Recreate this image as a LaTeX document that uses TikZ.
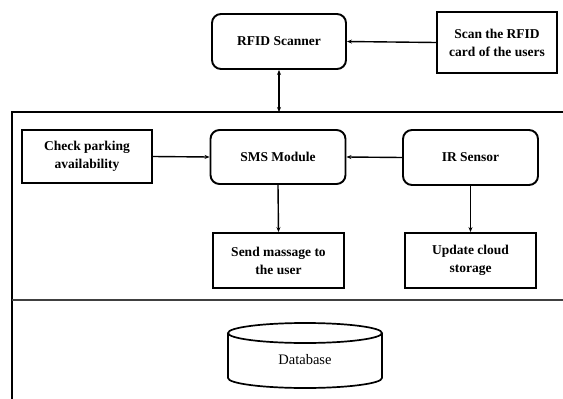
\documentclass[tikz,border=0pt]{standalone}
\usepackage{fontspec}
\setmainfont{Liberation Serif}
\usetikzlibrary{arrows.meta}
\begin{document}
\begin{tikzpicture}[x=1pt,y=-1pt,
  box/.style={draw, line width=1.9pt, align=center, inner sep=0pt,
    font=\fontsize{13.5}{18}\selectfont\bfseries},
  roundbox/.style={box, rounded corners=9pt},
  tip/.style={Stealth[length=5pt,width=4pt]},
  flow/.style={line width=1.4pt, -{Stealth[length=5pt,width=4pt]}},
  frame/.style={line width=1.9pt}]
\useasboundingbox (0,0) rectangle (563,399);

% upper row
\node[roundbox, minimum width=134pt, minimum height=55pt] (rfid) at (279,41.5) {RFID Scanner};
\node[box, minimum width=120pt, minimum height=61pt] (scan) at (497,42.5) {Scan the RFID\\card of the users};

% enclosing frame and the line that splits it
\coordinate (ftl) at (12,112);
\coordinate (ftr) at (563,112);
\coordinate (fbl) at (12,399);
\coordinate (sepl) at (12,300);
\coordinate (sepr) at (563,300);
\coordinate (ftop) at (279,112);
\draw[frame] (fbl) -- (ftl) -- (ftr);
\draw[line width=2.4pt, black!75] (sepl) -- (sepr);

% middle row
\node[box, minimum width=130pt, minimum height=53pt] (check) at (87,156.5) {Check parking\\availability};
\node[roundbox, minimum width=135pt, minimum height=54pt] (sms) at (278,157) {SMS Module};
\node[roundbox, minimum width=135pt, minimum height=55pt] (ir) at (470.5,157.5) {IR Sensor};

% lower row
\node[box, minimum width=131pt, minimum height=55pt] (send) at (278.5,260.5) {Send massage to\\the user};
\node[box, minimum width=131pt, minimum height=55pt] (upd) at (470.5,260.5) {Update cloud\\storage};

% database cylinder
\draw[line width=1.7pt] (228,333) -- (228,378) arc[start angle=180, end angle=0, x radius=77, y radius=10] -- (382,333);
\draw[line width=1.7pt] (305,333) ellipse[x radius=77, y radius=10];
\node[font=\fontsize{14.5}{18}\selectfont] (db) at (305,360) {Database};

% connectors
\draw[flow] (scan.west) -- (rfid.east);
\draw[line width=1.4pt, {Stealth[length=5pt,width=4pt]}-{Stealth[length=5pt,width=4pt]}] (rfid.south) -- (ftop);
\draw[flow] (check.east) -- (sms.west);
\draw[flow] (ir.west) -- (sms.east);
\draw[flow] (sms.south) -- (send.north);
\draw[flow] (ir.south) -- (upd.north);
\end{tikzpicture}
\end{document}
